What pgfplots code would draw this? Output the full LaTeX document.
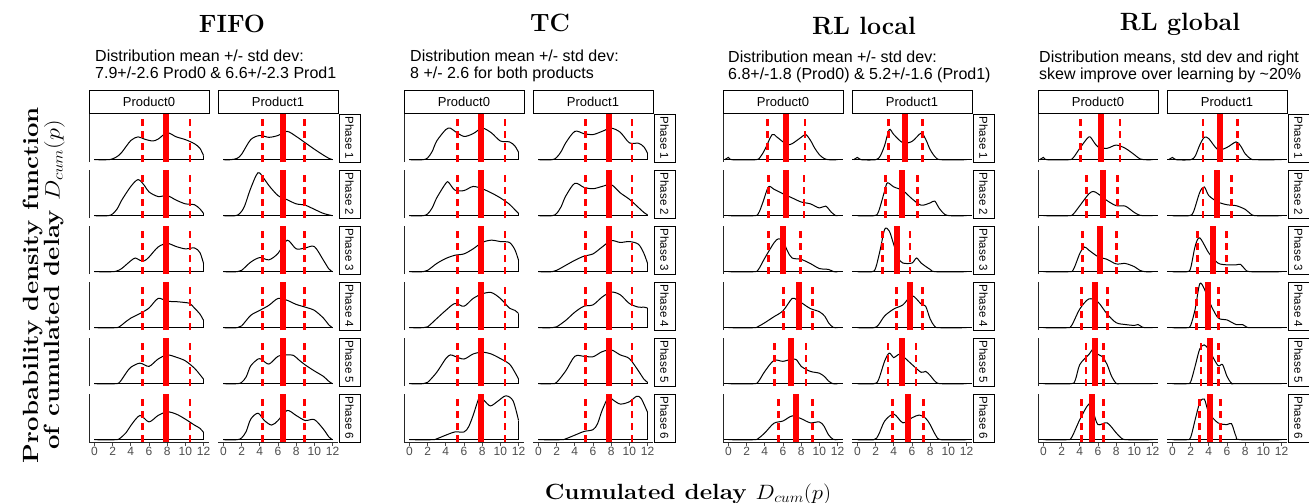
\documentclass[border=0pt]{standalone}
\usepackage{pgfplots}
\pgfplotsset{compat=1.18}
\usepackage{fontspec}
\newfontfamily\arial{Liberation Sans}

\pgfplotsset{
  dens/.style={black, line width=1pt, no markers},
  sdl/.style={red, line width=2.8pt, dash pattern=on 7pt off 5pt, no markers},
  mnl/.style={red, line width=6pt, no markers},
  panel/.style={scale only axis, width=120pt, height=48pt,
    xmin=-0.6, xmax=12.6, ymin=-0.05, ymax=1,
    axis line style={draw=none}, xtick=\empty, ytick=\empty,
    clip=false, anchor=south west},
  leftax/.style={after end axis/.append code={
    \draw[black!85, line width=0.9pt] (rel axis cs:0,0) -- (rel axis cs:0,1);}},
  botax/.style={xtick={0,2,...,12}, xtick pos=left,
    tick align=outside, major tick length=3.5pt,
    tick style={black!70, line width=0.7pt},
    xticklabel style={font=\arial\fontsize{12}{12}\selectfont, text=black!70, inner sep=1.5pt},
    /pgf/number format/assume math mode=true,
    after end axis/.append code={
    \draw[black!85, line width=0.9pt] (rel axis cs:0,0) -- (rel axis cs:1,0);}},
}
\def\blo{0}\def\bhi{12}
% one small panel: [extra], left x, bottom y, mean, mean-sd, mean+sd, density at 12, curve
\newcommand{\pan}[8][]{%
  \begin{axis}[panel, at={(#2pt,-#3pt)}, #1]
  \addplot[dens, smooth] coordinates {#8};
  \addplot[dens] coordinates {(\blo,0) (\bhi,0)};
  \addplot[dens] coordinates {(12,0) (12,#7)};
  \addplot[sdl] coordinates {(#5,-0.05) (#5,1)};
  \addplot[sdl] coordinates {(#6,-0.05) (#6,1)};
  \addplot[mnl] coordinates {(#4,-0.05) (#4,1)};
  \end{axis}}
\tikzset{strip/.style={draw=black, line width=0.9pt, fill=white, inner sep=0pt}}
\newcommand{\strips}[1]{%
  \node[strip, minimum width=120pt, minimum height=23.5pt, font=\arial\fontsize{13}{13}\selectfont] at (#1+60,101.75) {Product0};
  \node[strip, minimum width=120pt, minimum height=23.5pt, font=\arial\fontsize{13}{13}\selectfont] at (#1+189,101.75) {Product1};
  \foreach \r [count=\i] in {162,218,274,330,386,442}
    \node[strip, rotate=-90, minimum width=48pt, minimum height=21pt, font=\arial\fontsize{11.5}{11.5}\selectfont] at (#1+260.5,\r-24) {Phase \i};}

\begin{document}
\begin{tikzpicture}
\useasboundingbox (0pt,0pt) rectangle (1309pt,-503pt);

% ---------------- FIFO ----------------
\pan[leftax]{89}{162}{7.9}{5.3}{10.5}{0.09}{(0,0)(1.5,0)(2,0.02)(2.5,0.07)(3,0.16)(4,0.42)(4.8,0.5)(5.5,0.45)(6.4,0.41)(7,0.45)(8,0.59)(9,0.5)(10,0.44)(11,0.35)(11.6,0.25)(12,0.09)}
\pan[leftax]{89}{218}{7.9}{5.3}{10.5}{0.05}{(0,0)(1.5,0)(2,0.04)(2.5,0.15)(3,0.34)(4,0.64)(4.8,0.79)(5.5,0.66)(6,0.52)(7,0.42)(8,0.44)(9,0.34)(10,0.26)(11,0.24)(11.6,0.15)(12,0.05)}
\pan[leftax]{89}{274}{7.9}{5.3}{10.5}{0.18}{(0,0)(2,0)(2.5,0.02)(3,0.07)(4,0.24)(4.5,0.3)(5,0.25)(5.5,0.24)(6,0.32)(7,0.54)(8,0.62)(9,0.55)(10,0.5)(11,0.52)(11.6,0.42)(12,0.18)}
\pan[leftax]{89}{330}{7.9}{5.3}{10.5}{0.16}{(0,0)(2.3,0)(2.8,0.03)(3.5,0.14)(4,0.21)(5,0.31)(6,0.43)(7,0.64)(8,0.58)(9,0.57)(10,0.55)(10.5,0.53)(11,0.43)(11.6,0.3)(12,0.16)}
\pan[leftax]{89}{386}{7.9}{5.3}{10.5}{0.1}{(0,0)(2.3,0)(2.8,0.04)(3.5,0.24)(4,0.36)(5,0.45)(6,0.38)(7,0.54)(8,0.63)(9,0.58)(10,0.5)(11,0.34)(11.6,0.2)(12,0.1)}
\pan[leftax,botax]{89}{442}{7.9}{5.3}{10.5}{0.16}{(0,0)(2.3,0)(2.8,0.03)(3.5,0.16)(4,0.31)(5,0.53)(6,0.39)(7,0.53)(8,0.61)(9,0.56)(10,0.45)(11,0.32)(11.6,0.25)(12,0.16)}

\pan{218}{162}{6.6}{4.3}{8.9}{0}{(0,0)(0.8,0)(1.5,0.03)(2,0.12)(3,0.44)(4,0.53)(5,0.49)(6,0.53)(7,0.62)(8,0.51)(9,0.37)(10,0.23)(11,0.1)(11.6,0.03)(12,0)}
\pan{218}{218}{6.6}{4.3}{8.9}{0}{(0,0)(1.3,0)(1.8,0.05)(2.3,0.2)(3,0.6)(3.8,0.94)(4.5,0.8)(5,0.66)(6,0.44)(7,0.35)(8,0.26)(9,0.23)(10,0.14)(11,0.05)(12,0)}
\pan{218}{274}{6.6}{4.3}{8.9}{0}{(0,0)(1.5,0)(2,0.03)(3,0.21)(4,0.31)(5,0.26)(6,0.4)(7,0.69)(8,0.5)(9,0.52)(10,0.55)(11,0.25)(11.6,0.06)(12,0)}
\pan{218}{330}{6.6}{4.3}{8.9}{0}{(0,0)(1.5,0)(2,0.04)(3,0.27)(4,0.38)(5,0.49)(6,0.64)(7,0.6)(8,0.51)(9,0.45)(10,0.38)(11,0.21)(11.6,0.06)(12,0)}
\pan{218}{386}{6.6}{4.3}{8.9}{0}{(0,0)(1.5,0)(2,0.03)(2.5,0.15)(3,0.39)(3.8,0.54)(4.2,0.53)(5,0.43)(6,0.6)(7,0.63)(7.7,0.62)(8.3,0.52)(9,0.41)(10,0.28)(11,0.16)(11.6,0.05)(12,0)}
\pan[botax]{218}{442}{6.6}{4.3}{8.9}{0}{(0,0)(1.5,0)(2,0.04)(2.5,0.18)(3,0.45)(3.8,0.58)(4.5,0.42)(5.3,0.32)(6,0.42)(7,0.64)(8,0.53)(9,0.42)(10,0.44)(11,0.23)(11.6,0.06)(12,0)}

% ---------------- TC ----------------
\pan[leftax]{404}{162}{7.9}{5.3}{10.5}{0.16}{(0,0)(1.5,0)(2,0.04)(2.5,0.18)(3,0.41)(4,0.66)(4.5,0.69)(5,0.62)(6,0.51)(7,0.57)(8,0.69)(9,0.59)(10,0.41)(11,0.39)(11.6,0.3)(12,0.16)}
\pan[leftax]{404}{218}{7.9}{5.3}{10.5}{0.05}{(0,0)(1.5,0)(2,0.04)(2.5,0.17)(3,0.39)(4,0.71)(4.3,0.73)(5,0.56)(6,0.55)(7,0.64)(8,0.59)(9,0.5)(10,0.39)(11,0.25)(11.6,0.13)(12,0.05)}
\pan[leftax]{404}{274}{7.9}{5.3}{10.5}{0.25}{(0,0)(1.5,0)(2,0.03)(3,0.18)(4,0.29)(5,0.36)(6,0.39)(7,0.5)(8,0.64)(9,0.69)(10,0.66)(11,0.64)(11.6,0.48)(12,0.25)}
\pan[leftax]{404}{330}{7.9}{5.3}{10.5}{0.31}{(0,0)(1.5,0)(2,0.02)(3,0.2)(4,0.38)(5,0.53)(6,0.47)(7,0.64)(8,0.74)(9,0.77)(10,0.64)(11,0.43)(11.6,0.38)(12,0.31)}
\pan[leftax]{404}{386}{7.9}{5.3}{10.5}{0.1}{(0,0)(1.5,0)(2,0.03)(3,0.25)(4,0.55)(4.5,0.63)(5,0.6)(6,0.54)(7,0.65)(8,0.69)(9,0.65)(10,0.55)(11,0.43)(11.6,0.25)(12,0.1)}
\pan[leftax,botax]{404}{442}{7.9}{5.3}{10.5}{0.42}{(0,0)(2.5,0)(3,0.02)(4,0.1)(5,0.17)(6,0.17)(6.5,0.28)(7,0.53)(7.7,0.93)(8.2,0.86)(8.9,0.74)(9.7,0.84)(10.6,0.96)(11.4,0.85)(12,0.42)}

\pan{533}{162}{7.8}{5.2}{10.3}{0.14}{(0,0)(1.5,0)(2,0.05)(2.5,0.18)(3,0.37)(4,0.62)(5,0.57)(6,0.55)(7,0.62)(8,0.69)(9,0.6)(10,0.37)(11,0.36)(11.6,0.28)(12,0.14)}
\pan{533}{218}{7.8}{5.2}{10.3}{0.02}{(0,0)(1.5,0)(2,0.05)(2.5,0.2)(3,0.43)(4,0.71)(5,0.62)(6,0.59)(7,0.64)(8,0.68)(9,0.5)(10,0.36)(11,0.18)(11.6,0.07)(12,0.02)}
\pan{533}{274}{7.8}{5.2}{10.3}{0.18}{(0,0)(1.5,0)(2,0.03)(3,0.14)(4,0.25)(5,0.34)(6,0.39)(7,0.54)(8,0.68)(9,0.64)(10,0.66)(11,0.6)(11.6,0.4)(12,0.18)}
\pan{533}{330}{7.8}{5.2}{10.3}{0.43}{(0,0)(1.5,0)(2,0.02)(3,0.16)(4,0.34)(5,0.47)(6,0.5)(7,0.67)(8,0.78)(9,0.72)(10,0.53)(11,0.45)(11.6,0.45)(12,0.43)}
\pan{533}{386}{7.8}{5.2}{10.3}{0.03}{(0,0)(1.5,0)(2,0.03)(3,0.28)(4,0.6)(5,0.6)(6,0.59)(7,0.7)(8,0.74)(9,0.63)(10,0.55)(11,0.28)(11.6,0.1)(12,0.03)}
\pan[botax]{533}{442}{7.8}{5.2}{10.3}{0.6}{(0,0)(2.5,0)(3,0.02)(4,0.1)(5,0.18)(6,0.22)(6.5,0.35)(7,0.64)(7.7,0.93)(8.2,0.87)(9,0.78)(10,0.83)(10.8,0.95)(11.3,0.9)(12,0.6)}

% ---------------- RL local ----------------
\def\blo{-0.6}\def\bhi{12.6}
\pan[leftax]{723}{162}{6.37}{4.32}{8.42}{0}{(-0.4,0)(0,0.05)(0.4,0)(3,0)(3.5,0.06)(4,0.22)(4.8,0.55)(5.3,0.5)(6,0.39)(6.5,0.33)(7,0.35)(8,0.49)(8.5,0.55)(9,0.43)(9.5,0.25)(10,0.11)(10.5,0.03)(11,0)(12,0)}
\pan[leftax]{723}{218}{6.37}{4.39}{8.3}{0}{(0,0)(2.8,0)(3.3,0.05)(3.8,0.3)(4.4,0.63)(5,0.58)(6,0.48)(7,0.39)(8,0.3)(9,0.26)(10,0.17)(10.7,0.21)(11.3,0.08)(11.8,0)(12,0)}
\pan[leftax]{723}{274}{6.04}{4.39}{7.94}{0}{(0,0)(2.8,0)(3.3,0.05)(4,0.3)(5,0.63)(5.5,0.72)(6,0.67)(6.5,0.45)(7,0.3)(8,0.27)(9,0.18)(10,0.07)(11,0.05)(11.6,0)(12,0)}
\pan[leftax]{723}{330}{7.76}{6.04}{9.26}{0}{(0,0)(2.8,0)(3.3,0.03)(4,0.11)(5,0.24)(6,0.37)(7,0.64)(7.5,0.61)(8,0.55)(9,0.42)(10,0.35)(10.6,0.25)(11,0.11)(11.5,0.01)(12,0)}
\pan[leftax]{723}{386}{6.88}{5.05}{8.52}{0}{(0,0)(2.8,0)(3.3,0.05)(4,0.27)(5,0.51)(6,0.49)(7,0.54)(7.5,0.52)(8,0.38)(9,0.27)(10,0.23)(10.6,0.15)(11,0.06)(11.5,0)(12,0)}
\pan[leftax,botax]{723}{442}{7.39}{5.52}{9.26}{0}{(0,0)(2.8,0)(3.3,0.03)(4,0.15)(5,0.36)(6,0.41)(7,0.52)(8,0.46)(9,0.37)(10,0.39)(10.5,0.3)(11,0.11)(11.5,0.01)(12,0)}

\pan{852}{162}{5.24}{3.43}{7.12}{0}{(-0.4,0)(0,0.05)(0.4,0)(2,0)(2.5,0.08)(3,0.32)(3.5,0.66)(4,0.55)(5,0.37)(6,0.4)(7,0.58)(7.5,0.45)(8,0.22)(8.6,0.05)(9.2,0)(12,0)}
\pan{852}{218}{4.88}{3.07}{6.58}{0}{(0,0)(1.8,0)(2.3,0.08)(3,0.55)(3.3,0.72)(4,0.63)(5,0.55)(6,0.37)(7,0.23)(8,0.28)(8.5,0.32)(9,0.16)(9.6,0.03)(10.2,0)(12,0)}
\pan{852}{274}{4.34}{2.78}{5.78}{0}{(0,0)(1.6,0)(2,0.08)(2.5,0.48)(3,0.93)(3.5,0.89)(4,0.59)(4.5,0.3)(5,0.19)(6,0.19)(6.5,0.3)(7,0.19)(8,0.05)(8.6,0)(12,0)}
\pan{852}{330}{5.75}{4.3}{7.16}{0}{(0,0)(1.8,0)(2.3,0.06)(3,0.26)(4,0.41)(5,0.5)(6,0.7)(7,0.52)(7.5,0.47)(8,0.19)(8.5,0.03)(9,0)(12,0)}
\pan{852}{386}{4.92}{3.36}{6.43}{0}{(0,0)(1.8,0)(2.3,0.08)(3,0.5)(3.5,0.67)(4,0.57)(4.5,0.64)(5,0.6)(6,0.42)(7,0.25)(7.5,0.27)(8,0.18)(8.6,0.04)(9.2,0)(12,0)}
\pan[botax]{852}{442}{5.57}{3.87}{7.26}{0}{(0,0)(1.8,0)(2.3,0.1)(3,0.41)(4,0.56)(5,0.37)(6,0.48)(6.8,0.54)(7.5,0.47)(8,0.33)(8.6,0.1)(9.2,0)(12,0)}

% ---------------- RL global ----------------
\pan[leftax]{1038}{162}{6.29}{4.1}{8.42}{0}{(-0.4,0)(0,0.05)(0.4,0)(2.8,0)(3.3,0.05)(4,0.25)(5,0.5)(5.5,0.4)(6,0.28)(7,0.25)(8,0.32)(9,0.25)(10,0.11)(10.6,0.02)(11.2,0)(12,0)}
\pan[leftax]{1038}{218}{6.51}{4.76}{8.16}{0}{(0,0)(2.8,0)(3.3,0.04)(4,0.22)(5,0.48)(5.5,0.53)(6,0.48)(7,0.33)(8,0.22)(9,0.21)(10,0.07)(10.6,0.01)(11.2,0)(12,0)}
\pan[leftax]{1038}{274}{6.18}{4.28}{8.05}{0}{(0,0)(2.8,0)(3.3,0.05)(4,0.4)(4.5,0.54)(5,0.47)(6,0.33)(7,0.27)(8,0.17)(9,0.18)(10,0.11)(10.6,0.03)(11.2,0)(12,0)}
\pan[leftax]{1038}{330}{5.67}{4.21}{7.02}{0}{(0,0)(2.6,0)(3.1,0.05)(4,0.41)(5,0.63)(6,0.56)(7,0.3)(8,0.11)(9,0.07)(10,0.05)(10.4,0.07)(10.9,0.01)(11.4,0)(12,0)}
\pan[leftax]{1038}{386}{5.67}{4.68}{6.59}{0}{(0,0)(3,0)(3.5,0.08)(4,0.42)(5,0.64)(5.5,0.76)(6,0.64)(6.5,0.59)(7,0.42)(7.5,0.16)(8,0.01)(8.5,0)(12,0)}
\pan[leftax,botax]{1038}{442}{5.34}{4.21}{6.59}{0}{(0,0)(2.6,0)(3.1,0.05)(4,0.44)(5,0.78)(5.5,0.59)(6,0.33)(7,0.37)(8,0.15)(8.6,0.03)(9.2,0)(12,0)}

\pan{1167}{162}{5.24}{3.36}{7.12}{0}{(-0.4,0)(0,0.05)(0.4,0)(2,0)(2.5,0.08)(3,0.32)(3.5,0.49)(4,0.46)(5,0.22)(6,0.27)(7,0.39)(7.5,0.3)(8,0.13)(8.6,0.02)(9.2,0)(12,0)}
\pan{1167}{218}{4.95}{3.36}{6.5}{0}{(0,0)(1.8,0)(2.3,0.08)(3,0.51)(3.5,0.63)(4,0.44)(5,0.3)(6,0.24)(7,0.22)(8,0.14)(8.6,0.04)(9.2,0)(12,0)}
\pan{1167}{274}{4.41}{2.78}{5.96}{0}{(0,0)(1.6,0)(2,0.08)(2.5,0.56)(3,0.74)(4,0.41)(5,0.19)(6,0.15)(7,0.15)(7.5,0.16)(8,0.05)(8.6,0)(12,0)}
\pan{1167}{330}{3.94}{2.67}{5.02}{0}{(0,0)(1.6,0)(2,0.05)(2.5,0.41)(3,0.96)(3.5,0.85)(4,0.59)(5,0.22)(6,0.17)(7,0.07)(7.7,0.07)(8.2,0.01)(8.8,0)(12,0)}
\pan{1167}{386}{4.12}{3.14}{5.02}{0}{(0,0)(1.6,0)(2,0.04)(2.5,0.39)(3,0.76)(3.5,0.85)(4,0.74)(5,0.4)(5.5,0.42)(6,0.16)(6.5,0.01)(7,0)(12,0)}
\pan[botax]{1167}{442}{4.16}{2.96}{5.31}{0}{(0,0)(1.6,0)(2,0.05)(2.5,0.44)(3,0.81)(3.5,0.89)(4,0.59)(5,0.37)(6,0.33)(6.5,0.35)(7,0.07)(7.5,0)(12,0)}

% ---------------- strips, titles, labels ----------------
\begin{scope}[x=1pt, y=-1pt]
\strips{89}
\strips{404}
\strips{723}
\strips{1038}
\tikzset{ttl/.style={anchor=base, font=\fontsize{25}{27}\selectfont\bfseries},
         note/.style={anchor=base west, inner sep=0pt, font=\arial\fontsize{16}{17}\selectfont}}
\node[ttl] at (232,33) {FIFO};
\node[ttl] at (550,32) {TC};
\node[ttl] at (864,35) {RL local};
\node[ttl] at (1180,31) {RL global};
\node[note] at (95,62) {Distribution mean +/- std dev:};
\node[note] at (95,78.5) {7.9+/-2.6 Prod0 \& 6.6+/-2.3 Prod1};
\node[note] at (410,62) {Distribution mean +/- std dev:};
\node[note] at (410,78.5) {8 +/- 2.6 for both products};
\node[note] at (728,63) {Distribution mean +/- std dev:};
\node[note] at (728,80) {6.8+/-1.8 (Prod0) \& 5.2+/-1.6 (Prod1)};
\node[note] at (1039,63) {Distribution means, std dev and right};
\node[note] at (1039,80) {skew improve over learning by \textasciitilde 20\%};
\node[rotate=90, xscale=1.17, align=center, font=\fontsize{22}{17}\selectfont\bfseries] at (44,285)
  {Probability density function\\ of cumulated delay $D_{cum}(p)$};
\node[anchor=base, xscale=1.1, font=\fontsize{22}{24}\selectfont\bfseries] at (688,499)
  {Cumulated delay $D_{cum}(p)$};
\end{scope}
\end{tikzpicture}
\end{document}
